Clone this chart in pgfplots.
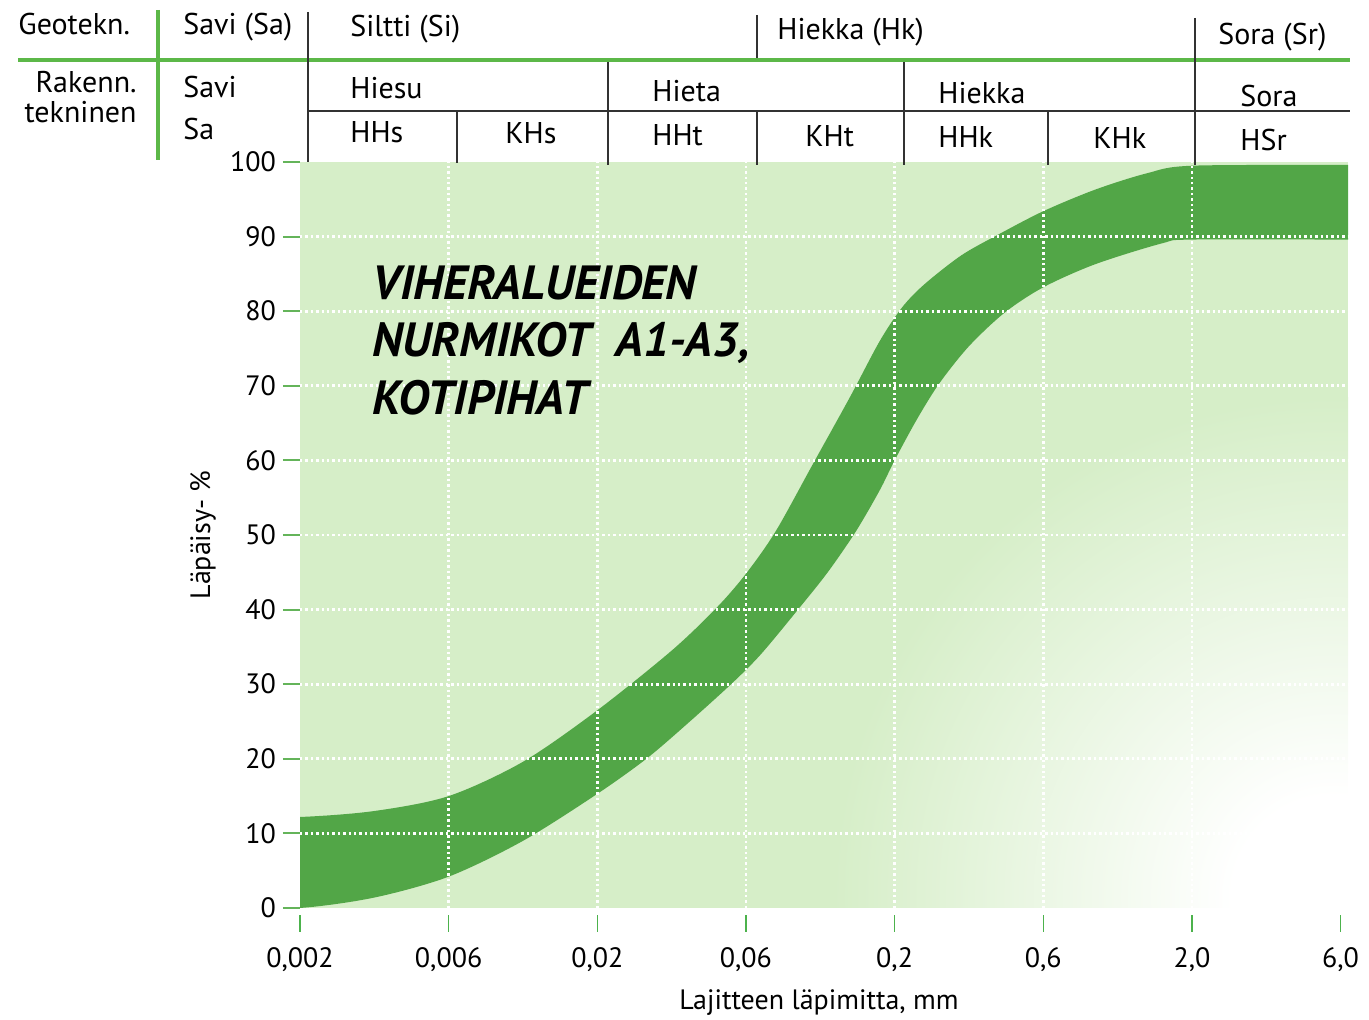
\documentclass[border=0pt]{standalone}
\usepackage{fontspec}
\setmainfont{PT Sans}
\usepackage{pgfplots}
\pgfplotsset{compat=1.18}
\definecolor{band}{RGB}{82,166,71}
\definecolor{bglight}{RGB}{214,238,200}
\definecolor{hdrgreen}{RGB}{92,184,72}
\definecolor{tickgreen}{RGB}{100,180,90}
\definecolor{linegray}{RGB}{50,50,50}
\pgfdeclareradialshading{fade}{\pgfpoint{0bp}{0bp}}{color(0bp)=(white); color(5bp)=(white); color(25bp)=(bglight); color(50bp)=(bglight)}
\newcommand\hf{\fontsize{15}{15}\selectfont}
\begin{document}
\begin{tikzpicture}[x=1pt,y=1pt]
\useasboundingbox (-150,-56) rectangle (534.5,454);
\begin{axis}[
 scale only axis, width=524pt, height=373pt,
 xmin=0, xmax=7.05, ymin=0, ymax=100,
 axis on top,
 axis line style={draw=none},
 tick align=outside,
 tick pos=left,
 major tick length=8.5pt,
 xtick={0,...,7},
 xticklabels={{0,002},{0,006},{0,02},{0,06},{0,2},{0,6},{2,0},{6,0}},
 ytick={0,10,...,100},
 y tick style={draw=tickgreen, line width=1pt},
 x tick style={draw=gray!60!green, line width=0.7pt, yshift=-3.5pt},
 tick label style={font=\fontsize{14}{16}\selectfont},
 /pgf/number format/assume math mode=true,
 xticklabel style={yshift=-8pt},
 extra x ticks={1,...,6}, extra x tick labels={}, extra x tick style={grid=major, major tick length=0pt},
 extra y ticks={10,20,...,90}, extra y tick labels={}, extra y tick style={grid=major, major tick length=0pt},
 major grid style={white, line width=1.4pt, dash pattern=on 1.2pt off 1.5pt},
]
\fill[bglight] (axis cs:0,0) rectangle (axis cs:7.05,100);
\shade[shading=fade] (axis cs:6.95,1.5) circle[radius=250pt];
\addplot[draw=none, fill=band, smooth] coordinates {
 (-0.5,12.2) (0,12.2) (0.5,13.0) (1,15.0) (1.5,19.6) (2,26.5) (2.5,34.5) (2.8,40.2) (3,44.8) (3.2,50.5) (3.45,59.5) (3.7,68.5) (3.9,76) (4.05,80.5) (4.2,83.6) (4.45,87.5) (4.7,90.3) (5,93.4) (5.35,96.3) (5.7,98.5) (6,99.5) (7.05,99.6) (7.6,99.6)
 (7.6,89.6) (7.05,89.6) (6,89.6) (5.8,89.1) (5.35,86.3) (5,83.2) (4.74,79.8) (4.5,75.3) (4.3,70.3) (4.15,65.5) (4,60) (3.9,56) (3.74,50.5) (3.55,45) (3.35,40) (3.1,34) (2.9,30) (2.6,24.6) (2.33,20) (2,15.3) (1.5,9.0) (1,4.2) (0.5,1.4) (0,0) (-0.5,0)};
\end{axis}
% header lines
\draw[hdrgreen, line width=2pt] (-141,424) -- (525,424);
\draw[hdrgreen, line width=1.6pt] (-71,449) -- (-71,374);
\draw[linegray, line width=0.7pt] (4,448) -- (4,373);
\draw[linegray, line width=0.7pt] (228.5,446.5) -- (228.5,425);
\draw[linegray, line width=0.7pt] (447.5,445) -- (447.5,371.5);
\draw[linegray, line width=0.7pt] (154,423) -- (154,371.5);
\draw[linegray, line width=0.7pt] (302,423) -- (302,371.5);
\draw[linegray, line width=0.7pt] (78.5,398) -- (78.5,372.5);
\draw[linegray, line width=0.7pt] (228.5,398) -- (228.5,371.5);
\draw[linegray, line width=0.7pt] (374,398) -- (374,371.5);
\draw[linegray, line width=1pt] (4,398.5) -- (525,398.5);
% header text
\begin{scope}[every node/.style={inner sep=0pt, font=\hf}]
\node[anchor=base west] at (-141,436.5) {Geotekn.};
\node[anchor=base west] at (-58.5,436.5) {Savi (Sa)};
\node[anchor=base west] at (25,435.5) {Siltti (Si)};
\node[anchor=base west] at (238.5,434) {Hiekka (Hk)};
\node[anchor=base west] at (459,431.5) {Sora (Sr)};
\node[anchor=base east] at (-81.5,407.5) {Rakenn.};
\node[anchor=base east] at (-81.5,392.5) {tekninen};
\node[anchor=base west] at (-58.5,405) {Savi};
\node[anchor=base west] at (-58.5,384) {Sa};
\node[anchor=base west] at (25,404.5) {Hiesu};
\node[anchor=base west] at (176,403) {Hieta};
\node[anchor=base west] at (319,402) {Hiekka};
\node[anchor=base west] at (470,400.5) {Sora};
\node[anchor=base west] at (25,382.5) {HHs};
\node[anchor=base west] at (102.5,382) {KHs};
\node[anchor=base west] at (176,381) {HHt};
\node[anchor=base west] at (252.5,380.5) {KHt};
\node[anchor=base west] at (319,380) {HHk};
\node[anchor=base west] at (396.5,379.5) {KHk};
\node[anchor=base west] at (470,378.5) {HSr};
\end{scope}
% axis labels
\node[rotate=90, inner sep=0pt, font=\fontsize{14}{14}\selectfont] at (-48.5,186.5) {Läpäisy- \%};
\node[anchor=base, inner sep=0pt, font=\fontsize{14}{14}\selectfont] at (259.5,-51) {Lajitteen läpimitta, mm};
% annotation
\begin{scope}[every node/.style={inner sep=0pt, anchor=base west, font=\fontsize{24}{24}\selectfont\bfseries\itshape}]
\node at (36,304) {VIHERALUEIDEN};
\node at (36,275.5) {NURMIKOT\ \ A1-A3,};
\node at (36,246.5) {KOTIPIHAT};
\end{scope}
\end{tikzpicture}
\end{document}
